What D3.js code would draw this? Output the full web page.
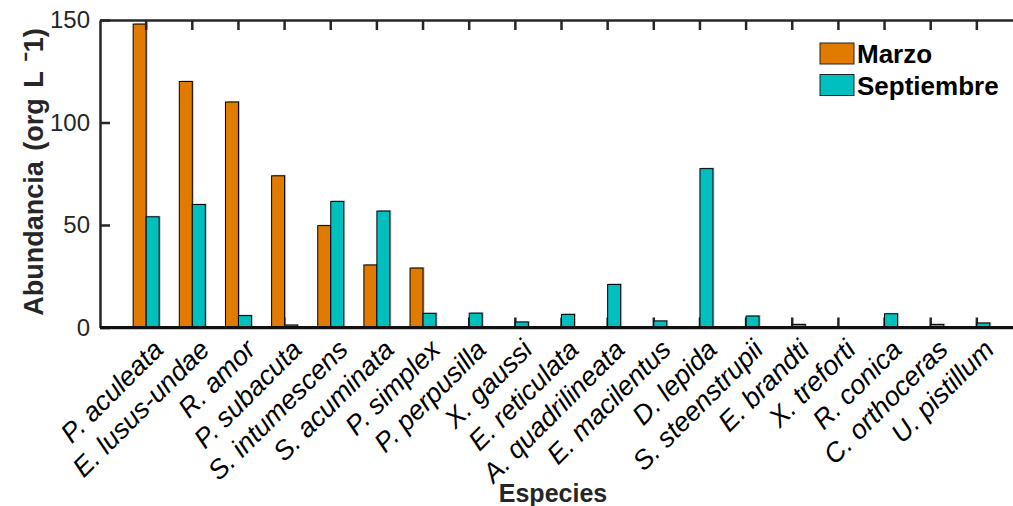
<!DOCTYPE html>
<html>
<head>
<meta charset="utf-8">
<script src="https://cdn.jsdelivr.net/npm/d3@7/dist/d3.min.js"></script>
<style>
  body { margin: 0; background: #fff; }
  svg { display: block; font-family: "Liberation Sans", Arial, sans-serif; }
</style>
</head>
<body>
<div id="chart"></div>
<script>
const species = ["P. aculeata", "E. lusus-undae", "R. amor", "P. subacuta", "S. intumescens",
    "S. acuminata", "P. simplex", "P. perpusilla", "X. gaussi", "E. reticulata",
    "A. quadrilineata", "E. macilentus", "D. lepida", "S. steenstrupii", "E. brandti",
    "X. treforti", "R. conica", "C. orthoceras", "U. pistillum"];
const seriesNames = ["Marzo", "Septiembre"];
const marzo = [148, 120, 110, 74, 49.7, 30.5, 29, 0, 0, 0, 0, 0, 0, 0, 0, 0, 0, 0, 0];
const septiembre = [54, 60, 5.8, 1.2, 61.5, 56.8, 6.9, 7, 2.7, 6.4, 21, 3.2, 77.5, 5.6, 1.5, 0, 6.7, 1.5, 2.2];
const yTicks = [0, 50, 100, 150];

const width = 1013, height = 506;
const colors = { "Marzo": "#E07B00", "Septiembre": "#00BFBF" };
const axisColor = "#262626";

const svg = d3.select("#chart").append("svg")
    .attr("width", width)
    .attr("height", height);

// plot box (right side runs off the canvas like the original)
const plotLeft = 100, plotRight = 1023, plotTop = 20, plotBottom = 327.5;

const x = d3.scaleBand()
    .domain(species)
    .range([plotLeft, plotRight])
    .paddingInner(0)
    .paddingOuter(0.5);

const xs = d3.scaleBand()
    .domain(seriesNames)
    .range([-13, 13]);

const y = d3.scaleLinear()
    .domain([0, 150])
    .range([plotBottom, plotTop]);

const rows = species.map((s, i) => ({ name: s, Marzo: marzo[i], Septiembre: septiembre[i] }));

// bottom ticks sit behind bars
const bottomAxis = svg.append("g")
    .attr("transform", `translate(0,${plotBottom})`)
    .call(d3.axisBottom(x).tickSizeInner(-10).tickSizeOuter(0).tickPadding(10));

// bars
const groups = svg.append("g").selectAll("g")
    .data(rows)
    .join("g")
    .attr("transform", d => `translate(${x(d.name) + x.bandwidth() / 2},0)`);

groups.selectAll("rect.shadow")
    .data(d => seriesNames.map(k => ({ key: k, value: d[k] })))
    .join("rect")
    .attr("class", "shadow")
    .attr("x", d => xs(d.key) + 1.5)
    .attr("y", d => y(d.value) - 1)
    .attr("width", xs.bandwidth())
    .attr("height", d => plotBottom - y(d.value))
    .attr("fill", "#9a9a9a")
    .attr("opacity", 0.6);

groups.selectAll("rect.bar")
    .data(d => seriesNames.map(k => ({ key: k, value: d[k] })))
    .join("rect")
    .attr("class", "bar")
    .attr("x", d => xs(d.key))
    .attr("y", d => y(d.value))
    .attr("width", xs.bandwidth())
    .attr("height", d => plotBottom - y(d.value))
    .attr("fill", d => colors[d.key])
    .attr("stroke", "#000")
    .attr("stroke-width", 1);

// axes
const leftAxis = svg.append("g")
    .attr("transform", `translate(${plotLeft},0)`)
    .call(d3.axisLeft(y).tickValues(yTicks).tickSizeInner(-10).tickSizeOuter(0).tickPadding(10));

const topAxis = svg.append("g")
    .attr("transform", `translate(0,${plotTop})`)
    .call(d3.axisTop(x).tickSizeInner(-10).tickSizeOuter(0).tickFormat(""));

svg.append("line")
    .attr("x1", plotLeft).attr("x2", plotRight)
    .attr("y1", plotBottom).attr("y2", plotBottom)
    .attr("stroke", "#111").attr("stroke-width", 3);

[leftAxis, topAxis, bottomAxis].forEach(a => {
    a.select(".domain").attr("stroke", axisColor).attr("stroke-width", 2.5);
    a.selectAll(".tick line").attr("stroke", axisColor).attr("stroke-width", 2.5);
});

leftAxis.selectAll("text")
    .attr("fill", axisColor)
    .style("font-size", "24px");

bottomAxis.selectAll("text")
    .attr("fill", "#000")
    .style("font-size", "27px")
    .style("font-style", "italic")
    .attr("text-anchor", "end")
    .attr("dy", "0.35em")
    .attr("transform", "translate(5,10) rotate(-45)");

// axis titles
svg.append("text")
    .attr("transform", `translate(43,172) rotate(-90)`)
    .attr("text-anchor", "middle")
    .attr("fill", axisColor)
    .style("font-size", "27px")
    .style("font-weight", "bold")
    .style("word-spacing", "3px")
    .text("Abundancia (org L ˉ1)");

svg.append("text")
    .attr("x", 553)
    .attr("y", 502)
    .attr("text-anchor", "middle")
    .attr("fill", axisColor)
    .style("font-size", "25px")
    .style("font-weight", "bold")
    .text("Especies");

// legend
const legend = svg.append("g")
    .selectAll("g")
    .data(seriesNames)
    .join("g")
    .attr("transform", (d, i) => `translate(820,${43 + i * 31.5})`);

legend.append("rect")
    .attr("width", 34)
    .attr("height", 21)
    .attr("fill", d => colors[d])
    .attr("stroke", "#222")
    .attr("stroke-width", 1);

legend.append("text")
    .attr("x", 37)
    .attr("y", 20)
    .attr("fill", "#000")
    .style("font-size", "26px")
    .style("font-weight", "bold")
    .text(d => d);
</script>
</body>
</html>
